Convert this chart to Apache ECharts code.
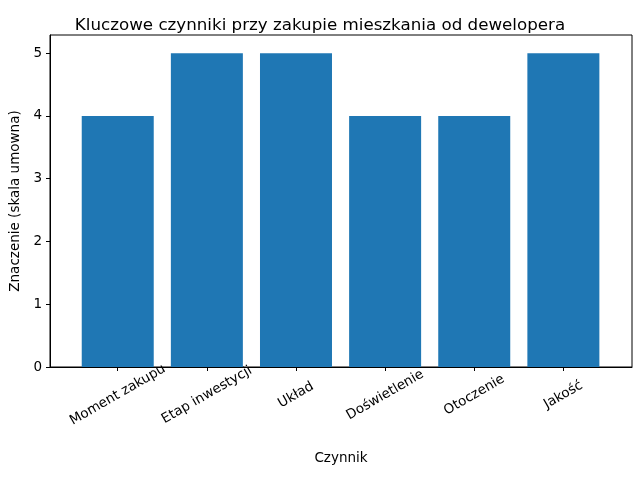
<!DOCTYPE html>
<html lang="pl">
<head>
    <meta charset="UTF-8">
    <title>Kluczowe czynniki</title>
    <script src="https://cdn.jsdelivr.net/npm/echarts@6/dist/echarts.min.js"></script>
</head>
<body style="margin:0">
<div id="main" style="width:640px;height:480px;"></div>
<script>
    var categories = ['Moment zakupu', 'Etap inwestycji', 'Układ', 'Doświetlenie', 'Otoczenie', 'Jakość'];
    var values = [4, 5, 5, 4, 4, 5];
    var yTicks = [0, 1, 2, 3, 4, 5];
    var xTicks = [0, 1, 2, 3, 4, 5];

    var font = 'DejaVu Sans';
    var chart = echarts.init(document.getElementById('main'));
    chart.setOption({
        animation: false,
        title: {
            text: 'Kluczowe czynniki przy zakupie mieszkania od dewelopera',
            left: 'center', top: 12,
            textStyle: {fontFamily: font, fontSize: 16.7, fontWeight: 'normal', color: '#000'}
        },
        grid: {left: 47, right: 8, top: 35, bottom: 113, show: true, borderColor: '#000', borderWidth: 1},
        xAxis: {
            type: 'value', min: -0.76, max: 5.77,
            name: 'Czynnik', nameLocation: 'middle', nameGap: 84,
            nameTextStyle: {fontFamily: font, fontSize: 13.5, color: '#000'},
            splitLine: {show: false},
            axisLine: {show: true, onZero: false, lineStyle: {color: '#000'}},
            axisTick: {show: true, customValues: xTicks, length: 4, lineStyle: {color: '#000'}},
            axisLabel: {
                customValues: xTicks, rotate: 30, align: 'center', verticalAlign: 'middle', margin: 28,
                fontFamily: font, fontSize: 13.5, color: '#000',
                formatter: function (v) { return categories[v]; }
            }
        },
        yAxis: {
            type: 'value', min: 0, max: 5.29,
            name: 'Znaczenie (skala umowna)', nameLocation: 'middle', nameGap: 28,
            nameTextStyle: {fontFamily: font, fontSize: 13.5, color: '#000'},
            splitLine: {show: false},
            axisLine: {show: true, onZero: false, lineStyle: {color: '#000'}},
            axisTick: {show: true, customValues: yTicks, length: 4, lineStyle: {color: '#000'}},
            axisLabel: {customValues: yTicks, fontFamily: font, fontSize: 13.5, color: '#000', margin: 8}
        },
        series: [{
            type: 'bar',
            barWidth: 72,
            itemStyle: {color: '#1f77b4'},
            data: values.map(function (v, i) { return [i, v]; })
        }]
    });
</script>
</body>
</html>
